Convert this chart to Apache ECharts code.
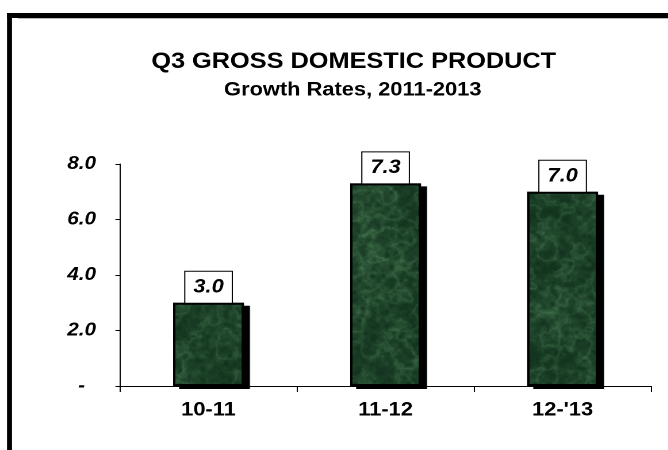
<!DOCTYPE html>
<html>
<head>
<meta charset="utf-8">
<script src="https://cdn.jsdelivr.net/npm/echarts@6/dist/echarts.min.js"></script>
<style>
html,body{margin:0;padding:0;background:#fff;overflow:hidden;}
#wrap{width:668px;height:450px;overflow:hidden;position:relative;}
#chart{position:absolute;left:0;top:0;height:450px;transform-origin:0 0;}
</style>
</head>
<body>
<div id="wrap"><div id="chart"></div></div>
<script>
// ---- data ----
var categories = ['10-11', '11-12', "12-'13"];
var growthRates = [3.0, 7.3, 7.0];
var yTicks = [0, 2, 4, 6, 8];
var titleText = 'Q3 GROSS DOMESTIC PRODUCT';
var subtitleText = 'Growth Rates, 2011-2013';

var FONT = '"Liberation Sans", Arial, sans-serif';
// the reference's lettering is horizontally stretched; render narrower and stretch
var S = 1.15;
var W = 668 / S;
var el = document.getElementById('chart');
el.style.width = W + 'px';
el.style.transform = 'scaleX(' + S + ')';

// deterministic mottled texture for the bar fill
function hash(x, y) {
  var s = Math.sin(x * 127.1 + y * 311.7) * 43758.5453;
  return s - Math.floor(s);
}
function smooth(t) { return t * t * (3 - 2 * t); }
function vnoise(x, y) {
  var xi = Math.floor(x), yi = Math.floor(y);
  var xf = x - xi, yf = y - yi;
  var a = hash(xi, yi), b = hash(xi + 1, yi), c = hash(xi, yi + 1), d = hash(xi + 1, yi + 1);
  var u = smooth(xf), v = smooth(yf);
  return a + (b - a) * u + (c - a) * v + (a - b - c + d) * u * v;
}
function fbm(x, y) {
  var t = 0, amp = 0.5, f = 1;
  for (var i = 0; i < 5; i++) { t += amp * vnoise(x * f, y * f); f *= 2; amp *= 0.5; }
  return t;
}
function makeTexture() {
  var w = 600, h = 470;
  var cv = document.createElement('canvas');
  cv.width = w; cv.height = h;
  var ctx = cv.getContext('2d');
  var img = ctx.createImageData(w, h);
  for (var y = 0; y < h; y++) {
    for (var x = 0; x < w; x++) {
      var big = fbm(x / 40, y / 40);
      var fine = fbm(x / 4 + 20, y / 4 + 7);
      var streak = fbm(x / 14 + 3, y / 14 + 9);
      streak = 1 - Math.abs(streak * 2 - 1);
      streak = Math.pow(streak, 10);
      var t = 0.05 + 0.4 * big * fine + 0.3 * fine * fine * big + 0.25 * streak;
      if (t > 1) t = 1;
      if (t < 0) t = 0;
      var r = 10 + (100 - 10) * t;
      var g = 40 + (160 - 40) * t;
      var b = 22 + (110 - 22) * t;
      var k = (y * w + x) * 4;
      img.data[k] = r; img.data[k + 1] = g; img.data[k + 2] = b; img.data[k + 3] = 255;
    }
  }
  ctx.putImageData(img, 0, 0);
  return cv;
}
var texture = makeTexture();

var chart = echarts.init(el, null, {renderer: 'canvas', devicePixelRatio: 2});
chart.setOption({
  animation: false,
  backgroundColor: '#fff',
  title: [
    {text: titleText, left: 348 / S, top: 46, textAlign: 'center',
     textStyle: {fontFamily: FONT, fontSize: 22, fontWeight: 'bold', color: '#000'}},
    {text: subtitleText, left: 347 / S, top: 76, textAlign: 'center',
     textStyle: {fontFamily: FONT, fontSize: 19, fontWeight: 'bold', color: '#000'}}
  ],
  graphic: [
    {type: 'line', shape: {x1: 7 / S, y1: 15.5, x2: W + 10, y2: 15.5},
     style: {stroke: '#000', lineWidth: 5}, silent: true, z: 100},
    {type: 'line', shape: {x1: 18 / S, y1: 18.5, x2: W + 10, y2: 18.5},
     style: {stroke: '#bbb', lineWidth: 1}, silent: true, z: 100},
    {type: 'line', shape: {x1: 9.5 / S, y1: 13, x2: 9.5 / S, y2: 460},
     style: {stroke: '#000', lineWidth: 5 / S}, silent: true, z: 100}
  ],
  grid: {left: 120 / S, right: 17 / S, top: 164, bottom: 64, containLabel: false},
  xAxis: {
    type: 'category',
    data: categories,
    z: 5,
    axisLine: {lineStyle: {color: '#000', width: 1}},
    axisTick: {show: true, length: 6, alignWithLabel: false, lineStyle: {color: '#000'}},
    axisLabel: {fontFamily: FONT, fontSize: 19, fontWeight: 'bold', color: '#000', margin: 15}
  },
  yAxis: {
    type: 'value',
    min: yTicks[0], max: yTicks[yTicks.length - 1], interval: 2,
    splitLine: {show: false},
    axisLine: {show: true, lineStyle: {color: '#000', width: 1}},
    axisTick: {show: true, length: 4, lineStyle: {color: '#000'}},
    axisLabel: {
      margin: 24 / S,
      fontFamily: FONT, fontSize: 18, fontWeight: 'bold', fontStyle: 'italic', color: '#000',
      formatter: function (v) { return v === 0 ? '{d|-}' : v.toFixed(1); },
      rich: {d: {fontFamily: FONT, fontSize: 18, fontWeight: 'bold', color: '#000', padding: [0, 11 / S, 0, 0]}}
    }
  },
  series: [
    {
      // textured fill with its black drop shadow
      type: 'bar',
      data: growthRates,
      barWidth: '40%',
      barGap: '-100%',
      itemStyle: {
        color: {image: texture, repeat: 'repeat'},
        borderWidth: 0,
        shadowColor: '#000',
        shadowBlur: 0,
        shadowOffsetX: 6 / S,
        shadowOffsetY: 3
      }
    },
    {
      // black outline and value boxes
      type: 'bar',
      data: growthRates,
      barWidth: '40%',
      barGap: '-100%',
      z: 3,
      itemStyle: {
        color: 'rgba(0,0,0,0)',
        borderColor: '#000',
        borderWidth: 2
      },
      label: {
        show: true,
        position: 'top',
        distance: 0,
        formatter: function (p) { return p.value.toFixed(1); },
        fontFamily: FONT, fontSize: 19, fontWeight: 'bold', fontStyle: 'italic', color: '#000',
        lineHeight: 21,
        backgroundColor: '#fff',
        borderColor: '#000',
        borderWidth: 1,
        padding: [5, 8 / S, 5, 8 / S]
      }
    }
  ]
});
</script>
</body>
</html>
